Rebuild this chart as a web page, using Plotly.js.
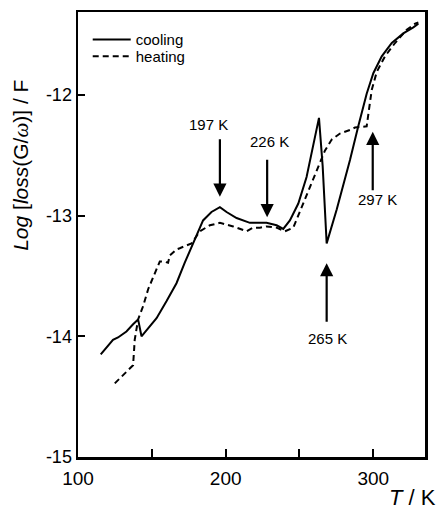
<!DOCTYPE html>
<html>
<head>
<meta charset="utf-8">
<script src="https://cdn.plot.ly/plotly-3.0.1.min.js"></script>
<style>html,body{margin:0;padding:0;background:#fff;}#chart{width:441px;height:512px;}</style>
</head>
<body>
<div id="chart"></div>
<script>
// Cooling (solid) curve
var coolT = [115.4, 123.7, 127.1, 132.8, 137.3, 140.7, 143.0, 147.5, 153.2, 159.9, 166.7, 172.3, 178.0, 184.7, 190.4, 196.1, 200.6, 207.4, 216.4, 227.7, 234.5, 239.0, 243.5, 249.2, 254.8, 259.3, 263.2, 265.7, 268.4, 275.2, 282.0, 284.2, 289.8, 295.5, 300.0, 305.7, 312.5, 320.3, 327.1, 330.5];
var coolV = [-14.15, -14.03, -14.01, -13.96, -13.90, -13.86, -14.00, -13.93, -13.85, -13.71, -13.56, -13.39, -13.23, -13.04, -12.97, -12.93, -12.97, -13.02, -13.06, -13.06, -13.08, -13.11, -13.04, -12.90, -12.68, -12.43, -12.19, -12.59, -13.23, -12.95, -12.65, -12.54, -12.26, -11.99, -11.82, -11.68, -11.57, -11.49, -11.44, -11.41];
// Heating (dashed) curve
var heatT = [124.9, 132.8, 137.3, 138.0, 138.4, 140.7, 144.1, 147.5, 152.0, 155.4, 157.6, 161.0, 162.2, 166.7, 168.9, 176.9, 182.5, 187.0, 189.3, 196.1, 205.1, 214.2, 218.6, 223.2, 227.7, 234.5, 240.1, 245.8, 251.5, 258.2, 263.9, 267.3, 271.8, 277.4, 284.2, 287.6, 295.5, 296.6, 298.9, 302.3, 307.9, 314.7, 322.6, 328.3, 330.5];
var heatV = [-14.39, -14.29, -14.24, -14.11, -14.03, -13.86, -13.75, -13.61, -13.48, -13.38, -13.38, -13.39, -13.33, -13.28, -13.27, -13.23, -13.13, -13.10, -13.08, -13.06, -13.09, -13.13, -13.10, -13.10, -13.09, -13.10, -13.13, -13.10, -12.93, -12.73, -12.57, -12.46, -12.37, -12.32, -12.29, -12.27, -12.26, -12.15, -11.96, -11.81, -11.68, -11.57, -11.46, -11.41, -11.40];

var seriesNames = ['cooling', 'heating'];
var xTickVals = [100, 150, 200, 250, 300];
var xTickText = ['100', '', '200', '', '300'];
var yTickVals = [-15, -14, -13, -12];
var yTickText = ['-15', '-14', '-13', '-12'];

// Arrow markers: label, arrow tip (T, value), direction, label position
var markLabels = ['197 K', '226 K', '265 K', '297 K'];
var markTipT = [196.1, 228.1, 268.4, 299.6];
var markTipV = [-12.843, -13.013, -13.394, -12.305];
var markDir = ['down', 'down', 'up', 'up'];
var markTextT = [188.6, 230.0, 269.3, 303.1];
var markTextV = [-12.241, -12.39, -14.02, -12.87];

var FONT = 'Liberation Sans, Arial, sans-serif';

var traces = [
  {x: coolT, y: coolV, name: seriesNames[0], mode: 'lines', type: 'scatter', legend: 'legend',
   line: {color: '#000', width: 2}},
  {x: heatT, y: heatV, name: seriesNames[1], mode: 'lines', type: 'scatter', legend: 'legend2',
   line: {color: '#000', width: 2, dash: '6px,4px'}}
];

var annotations = [];
for (var i = 0; i < markLabels.length; i++) {
  annotations.push({
    x: markTipT[i], y: markTipV[i], xref: 'x', yref: 'y',
    text: '', showarrow: true, arrowhead: 2, arrowsize: 1.2, arrowwidth: 2.2,
    arrowcolor: '#000', ax: 0, ay: markDir[i] === 'down' ? -59 : 60, standoff: 0, startstandoff: 0
  });
  annotations.push({
    x: markTextT[i], y: markTextV[i], xref: 'x', yref: 'y',
    text: markLabels[i], showarrow: false,
    font: {family: FONT, size: 15, color: '#000'}
  });
}
// x-axis title (bottom right)
annotations.push({
  x: 0.965, y: -0.091, xref: 'paper', yref: 'paper', xanchor: 'center', yanchor: 'middle',
  text: '<i>T</i> / K', showarrow: false, font: {family: FONT, size: 22, color: '#000'}
});
// y-axis title
annotations.push({
  x: -0.165, y: 0.656, xref: 'paper', yref: 'paper', xanchor: 'center', yanchor: 'middle',
  textangle: -90,
  text: '<i>Log</i> [<i>loss</i>(G/<span style="font-family:Liberation Serif,serif"><i>ω</i></span>)] / F',
  showarrow: false, font: {family: FONT, size: 21, color: '#000'}
});

var legendCommon = {xanchor: 'left', yanchor: 'top', bgcolor: 'rgba(0,0,0,0)', itemwidth: 38,
                    font: {family: FONT, size: 15, color: '#000'}};

var layout = {
  width: 441, height: 512,
  margin: {l: 78, r: 16, t: 12, b: 55},
  paper_bgcolor: '#fff', plot_bgcolor: '#fff',
  font: {family: FONT, color: '#000'},
  showlegend: true,
  legend: Object.assign({x: 0.028, y: 0.975}, legendCommon),
  legend2: Object.assign({x: 0.028, y: 0.937}, legendCommon),
  xaxis: {
    range: [100, 335], showgrid: false, zeroline: false,
    showline: true, linecolor: '#000', linewidth: 2.5, mirror: true,
    ticks: 'inside', ticklen: 8, tickwidth: 2, tickcolor: '#000',
    tickmode: 'array', tickvals: xTickVals, ticktext: xTickText, ticklabelstandoff: 3,
    tickfont: {family: FONT, size: 19, color: '#000'}
  },
  yaxis: {
    range: [-15, -11.313], showgrid: false, zeroline: false,
    showline: true, linecolor: '#000', linewidth: 2.5, mirror: true,
    ticks: 'inside', ticklen: 7, tickwidth: 2, tickcolor: '#000',
    tickmode: 'array', tickvals: yTickVals, ticktext: yTickText,
    tickfont: {family: FONT, size: 18, color: '#000'}
  },
  annotations: annotations
};

Plotly.newPlot('chart', traces, layout, {displayModeBar: false, staticPlot: true});
</script>
</body>
</html>
